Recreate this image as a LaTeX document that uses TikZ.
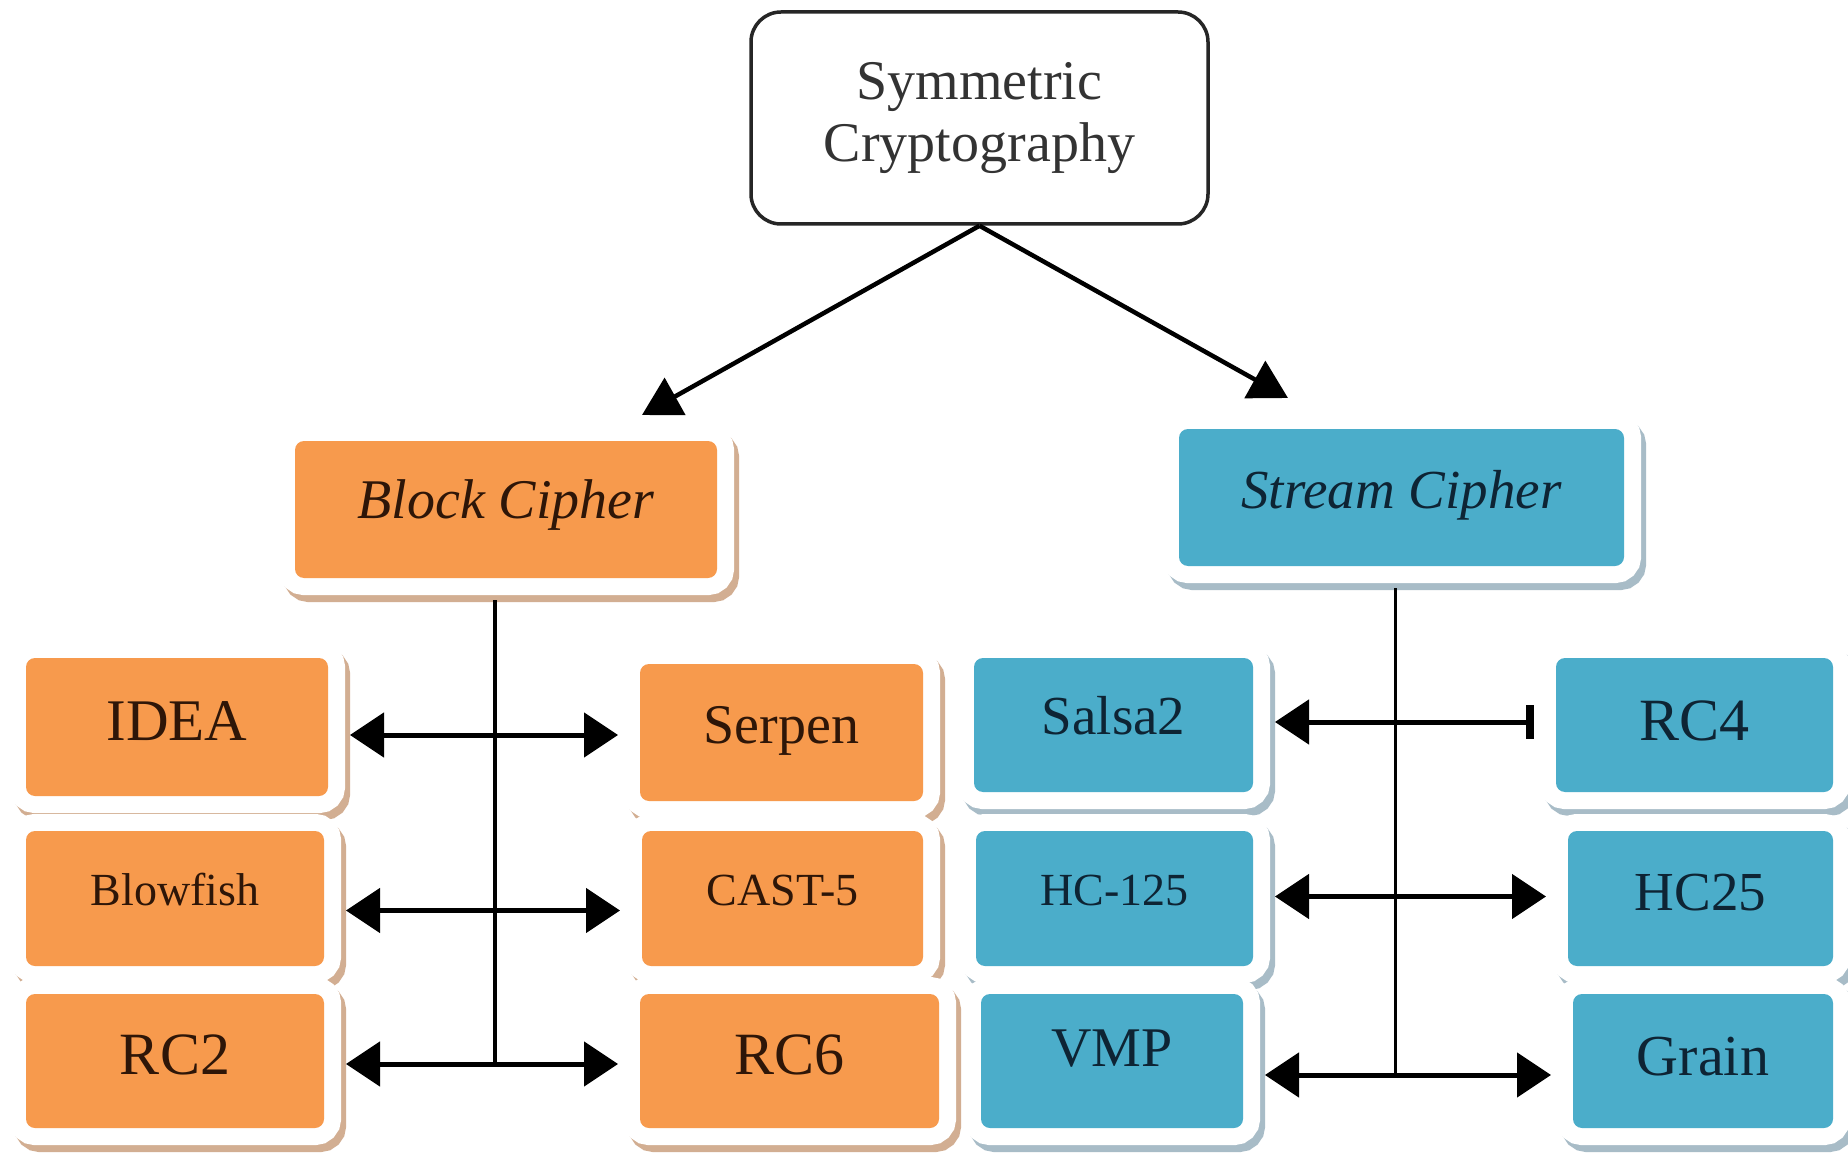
\documentclass[tikz,border=0pt]{standalone}
\usepackage{fontspec}
\setmainfont{Liberation Serif}
\usetikzlibrary{arrows.meta,calc}

\definecolor{orangebox}{HTML}{F79A4D}
\definecolor{bluebox}{HTML}{4BADCA}
\definecolor{orangeshade}{HTML}{D2AE92}
\definecolor{blueshade}{HTML}{A8BCC7}
\definecolor{browntext}{HTML}{2E1608}
\definecolor{bluetext}{HTML}{0E2434}

% raise a label without changing the size of its box
\newcommand\lift[2]{\raisebox{#1pt}[\height][\depth]{#2}}

\tikzset{
  % coloured box sitting in a white frame with a soft offset shadow
  framed/.style 2 args={rectangle, rounded corners=9pt, fill=#1, inner sep=0pt,
    outer sep=22pt,
    preaction={draw=#2, fill=#2, line width=34pt,
               transform canvas={shift={(5pt,-7pt)}}},
    preaction={draw=white, line width=34pt}},
  orangekid/.style={framed={orangebox}{orangeshade}, text=browntext},
  bluekid/.style={framed={bluebox}{blueshade}, text=bluetext},
  sz/.style 2 args={minimum width=#1pt, minimum height=#2pt},
  fs/.style={font=\fontsize{#1}{#1}\selectfont},
  topbox/.style={rectangle, draw=black!85, line width=3.5pt, rounded corners=30pt,
    fill=white, minimum width=457pt, minimum height=212pt, align=center,
    text=black!80, font=\fontsize{56}{62}\selectfont},
  biarrow/.style={line width=5pt,
    arrows={Triangle[length=34pt,width=44pt]-Triangle[length=34pt,width=44pt]}},
  cutarrow/.style={line width=5pt,
    arrows={Triangle[length=34pt,width=44pt]-Rectangle[length=8pt,width=34pt]}},
  downarrow/.style={line width=4.5pt, arrows={-Triangle[length=38pt,width=42pt]}},
  trunk/.style={line width=3.5pt}
}

\begin{document}
\begin{tikzpicture}[x=1pt,y=-1pt]
\useasboundingbox[fill=white] (0,0) rectangle (1848,1166);

% root
\node[topbox] (sym) at (979.5,118) {Symmetric\\Cryptography};

% the two families
\node[orangekid, sz={422}{137}, fs=56] (block) at (506,509.5) {\lift{4}{\itshape Block Cipher}};
\node[bluekid, sz={445}{137}, fs=55] (stream) at (1401.5,497.5) {\lift{2}{\itshape Stream Cipher}};

% block ciphers
\node[orangekid, sz={302}{138}, fs=59] (idea) at (177,727) {\lift{6}{IDEA}};
\node[orangekid, sz={283}{137}, fs=56] (serpen) at (781.5,732.5) {\lift{2}{Serpen}};
\node[orangekid, sz={298}{135}, fs=46] (blowfish) at (175,898.5) {\lift{9}{Blowfish}};
\node[orangekid, sz={281}{135}, fs=46] (cast) at (782.5,898.5) {\lift{8}{CAST-5}};
\node[orangekid, sz={298}{134}, fs=60] (rc2) at (175,1061) {\lift{6}{RC2}};
\node[orangekid, sz={299}{134}, fs=60] (rc6) at (789.5,1061) {\lift{6}{RC6}};

% stream ciphers
\node[bluekid, sz={279}{134}, fs=55] (salsa) at (1113.5,725) {\lift{9}{Salsa2}};
\node[bluekid, sz={277}{134}, fs=60] (rc4) at (1694.5,725) {\lift{4}{RC4}};
\node[bluekid, sz={277}{135}, fs=46] (hc125) at (1114.5,898.5) {\lift{8}{HC-125}};
\node[bluekid, sz={265}{135}, fs=55] (hc25) at (1700.5,898.5) {\lift{6}{HC25}};
\node[bluekid, sz={262}{134}, fs=56] (vmp) at (1112,1061) {\lift{12}{VMP}};
\node[bluekid, sz={260}{134}, fs=58] (grain) at (1703,1061) {\lift{4}{Grain}};

% root to families
\coordinate (blocktip) at ([xshift=136pt,yshift=4pt]block.north);
\coordinate (streamtip) at ([xshift=-113.5pt,yshift=9pt]stream.north);
\draw[downarrow] (sym.south) -- (blocktip);
\draw[downarrow] (sym.south) -- (streamtip);

% block cipher branches
\coordinate (b1) at ([yshift=-8pt]idea.east);
\coordinate (b2) at ([yshift=-12pt]blowfish.east);
\coordinate (b3) at ([yshift=-3pt]rc2.east);
\coordinate (btop) at ([xshift=-11pt]block.south);
\draw[trunk] (btop) -- (btop |- b3);
\draw[biarrow] (b1) -- (b1 -| serpen.west);
\draw[biarrow] (b2) -- (b2 -| cast.west);
\draw[biarrow] (b3) -- (b3 -| rc6.west);

% stream cipher branches
\coordinate (s1) at ([yshift=3pt]salsa.east);
\coordinate (s2) at ([yshift=2pt]hc125.east);
\coordinate (s3) at ([yshift=-14pt]vmp.east);
\coordinate (stop) at ([xshift=-6pt]stream.south);
\draw[trunk] (stop) -- (stop |- s3);
\draw[cutarrow] (s1) -- (s1 -| rc4.west);
\draw[biarrow] (s2) -- (s2 -| hc25.west);
\draw[biarrow] (s3) -- (s3 -| grain.west);
\end{tikzpicture}
\end{document}
